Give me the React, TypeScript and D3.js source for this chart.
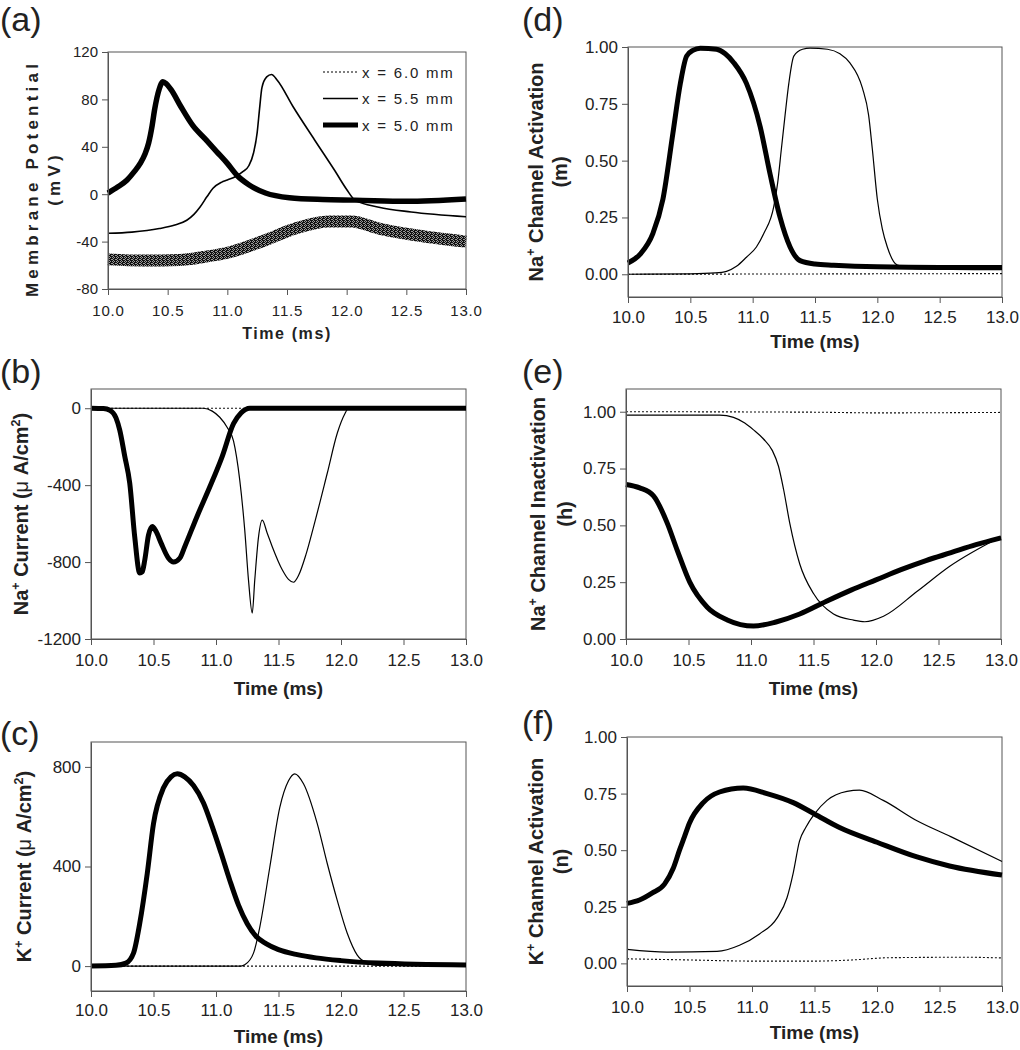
import { useEffect, useRef } from 'react';
import * as d3 from 'd3';

type Pt = [number, number];

const timeTicks = [10, 10.5, 11, 11.5, 12, 12.5, 13];
const legendLabels = ['x = 6.0 mm', 'x = 5.5 mm', 'x = 5.0 mm'];

// (a) membrane potential, mV
const vmTicks = [-80, -40, 0, 40, 80, 120];
const vm60: Pt[] = [
  [10.0, -55], [10.3, -56], [10.6, -55.5], [10.8, -53], [11.02, -49], [11.3, -39.5],
  [11.57, -29], [11.85, -23], [12.04, -23], [12.27, -29], [12.54, -34], [13.0, -40],
];
const vm55: Pt[] = [
  [10.0, -33], [10.2, -32], [10.43, -29], [10.56, -26], [10.66, -22], [10.72, -17],
  [10.77, -11], [10.83, -2], [10.88, 5], [10.95, 10], [11.0, 12], [11.07, 15],
  [11.13, 19], [11.18, 24], [11.22, 35], [11.25, 52], [11.27, 72], [11.29, 90],
  [11.33, 99], [11.37, 101], [11.42, 96], [11.55, 74], [11.73, 46], [11.9, 20],
  [12.0, 4], [12.07, -5], [12.27, -11], [12.54, -15], [13.0, -19],
];
const vm50: Pt[] = [
  [10.0, 1], [10.08, 6], [10.16, 12], [10.22, 19], [10.27, 26], [10.31, 34],
  [10.34, 43], [10.37, 58], [10.39, 71], [10.43, 89], [10.46, 95], [10.49, 93],
  [10.53, 88], [10.61, 74], [10.71, 58], [10.82, 46], [10.91, 36], [11.0, 26],
  [11.08, 16], [11.18, 8], [11.32, 1], [11.52, -3], [11.8, -4.5], [12.07, -5],
  [12.5, -6], [13.0, -4],
];

// (b) Na+ current, uA/cm2
const inaTicks = [-1200, -800, -400, 0];
const ina60: Pt[] = [[10.0, 0], [13.0, 0]];
const ina55: Pt[] = [
  [10.0, 0], [10.9, 0], [10.97, -15], [11.03, -47], [11.09, -100], [11.14, -170],
  [11.19, -374], [11.23, -634], [11.26, -894], [11.29, -1065], [11.31, -894],
  [11.34, -670], [11.37, -582], [11.41, -650], [11.45, -720], [11.53, -840],
  [11.58, -890], [11.62, -905], [11.66, -870], [11.72, -760], [11.78, -618],
  [11.89, -338], [11.97, -130], [12.03, -30], [12.06, 0], [13.0, 0],
];
const ina50: Pt[] = [
  [10.0, 0], [10.1, -2], [10.15, -10], [10.2, -50], [10.23, -114], [10.27, -250],
  [10.31, -390], [10.35, -670], [10.39, -857], [10.41, -850], [10.43, -790],
  [10.46, -660], [10.49, -615], [10.52, -640], [10.56, -700], [10.62, -780],
  [10.66, -800], [10.71, -780], [10.75, -720], [10.85, -560], [10.95, -410],
  [11.05, -250], [11.14, -80], [11.2, -25], [11.27, 0], [13.0, 0],
];

// (c) K+ current, uA/cm2
const ikTicks = [0, 400, 800];
const ik60: Pt[] = [[10.0, 0], [13.0, 0]];
const ik55: Pt[] = [
  [10.0, 0], [11.2, 0], [11.23, 5], [11.3, 52], [11.35, 156], [11.43, 396],
  [11.51, 636], [11.58, 744], [11.63, 772], [11.7, 732], [11.81, 572], [11.89, 412],
  [11.97, 264], [12.05, 132], [12.13, 44], [12.21, 12], [12.3, 3], [13.0, 0],
];
const ik50: Pt[] = [
  [10.0, 0], [10.2, 3], [10.28, 12], [10.34, 52], [10.39, 172], [10.45, 372],
  [10.5, 572], [10.58, 716], [10.64, 760], [10.69, 772], [10.75, 760], [10.82, 725],
  [10.9, 655], [10.97, 560], [11.04, 455], [11.11, 345], [11.18, 245], [11.25, 170],
  [11.32, 120], [11.4, 90], [11.5, 66], [11.65, 46], [11.8, 33], [12.0, 22],
  [12.3, 12], [13.0, 4],
];

// (d) Na+ activation m
const gateTicks = [0, 0.25, 0.5, 0.75, 1];
const m60: Pt[] = [[10.0, 0], [13.0, 0.003]];
const m55: Pt[] = [
  [10.0, 0], [10.5, 0.002], [10.7, 0.006], [10.79, 0.013], [10.87, 0.035],
  [10.95, 0.075], [11.03, 0.12], [11.09, 0.18], [11.17, 0.3], [11.2, 0.4],
  [11.23, 0.55], [11.26, 0.7], [11.29, 0.84], [11.33, 0.96], [11.4, 0.99],
  [11.46, 0.995], [11.6, 0.99], [11.7, 0.97], [11.78, 0.93], [11.88, 0.82],
  [11.93, 0.7], [11.96, 0.55], [12.0, 0.33], [12.04, 0.2], [12.08, 0.12],
  [12.16, 0.04], [12.3, 0.025], [13.0, 0.02],
];
const m50: Pt[] = [
  [10.0, 0.05], [10.1, 0.09], [10.2, 0.18], [10.28, 0.33], [10.36, 0.62],
  [10.42, 0.84], [10.47, 0.96], [10.52, 0.985], [10.58, 0.995], [10.71, 0.99],
  [10.78, 0.97], [10.85, 0.93], [10.95, 0.84], [11.06, 0.65], [11.14, 0.44],
  [11.22, 0.25], [11.3, 0.12], [11.38, 0.06], [11.5, 0.045], [11.65, 0.04],
  [12.0, 0.033], [12.5, 0.03], [13.0, 0.03],
];

// (e) Na+ inactivation h
const h60: Pt[] = [[10.0, 1.0], [11.5, 0.998], [12.0, 0.995], [13.0, 0.997]];
const h55: Pt[] = [
  [10.0, 0.985], [10.75, 0.985], [10.86, 0.975], [10.95, 0.95], [11.02, 0.92],
  [11.1, 0.88], [11.17, 0.83], [11.22, 0.76], [11.26, 0.66], [11.31, 0.51],
  [11.39, 0.33], [11.5, 0.2], [11.66, 0.11], [11.82, 0.083], [11.91, 0.076],
  [12.06, 0.1], [12.33, 0.21], [12.59, 0.32], [13.0, 0.45],
];
const h50: Pt[] = [
  [10.0, 0.68], [10.11, 0.665], [10.22, 0.63], [10.33, 0.51], [10.41, 0.39],
  [10.51, 0.25], [10.65, 0.14], [10.81, 0.084], [11.02, 0.057], [11.2, 0.075],
  [11.39, 0.11], [11.6, 0.165], [11.8, 0.215], [12.0, 0.26], [12.2, 0.305],
  [12.4, 0.345], [12.6, 0.38], [12.8, 0.415], [13.0, 0.445],
];

// (f) K+ activation n
const n60: Pt[] = [
  [10.0, 0.02], [10.5, 0.015], [11.0, 0.01], [11.5, 0.01], [11.8, 0.015],
  [12.1, 0.025], [12.7, 0.027], [13.0, 0.024],
];
const n55: Pt[] = [
  [10.0, 0.062], [10.32, 0.05], [10.72, 0.053], [10.9, 0.08], [11.06, 0.13],
  [11.2, 0.2], [11.28, 0.29], [11.33, 0.4], [11.38, 0.54], [11.43, 0.6],
  [11.5, 0.66], [11.6, 0.72], [11.76, 0.76], [11.86, 0.765], [12.05, 0.72],
  [12.32, 0.63], [12.59, 0.56], [13.0, 0.45],
];
const n50: Pt[] = [
  [10.0, 0.265], [10.1, 0.28], [10.2, 0.31], [10.3, 0.35], [10.37, 0.42],
  [10.42, 0.5], [10.46, 0.56], [10.5, 0.62], [10.61, 0.71], [10.74, 0.757],
  [10.93, 0.775], [11.12, 0.75], [11.33, 0.71], [11.5, 0.66], [11.7, 0.6],
  [12.0, 0.535], [12.32, 0.47], [12.58, 0.43], [13.0, 0.39],
];

const FONT = '"Liberation Sans", Arial, sans-serif';
const INK = '#222';
const FRAME = '#555';

type Part = { t: string; sup?: boolean; plain?: boolean };

function richText(sel: any, parts: Part[], size: number) {
  let up = false;
  parts.forEach((p) => {
    const ts = sel.append('tspan').text(p.t);
    if (p.sup) {
      ts.attr('font-size', size * 0.62).attr('dy', -size * 0.42);
      up = true;
    } else if (up) {
      ts.attr('dy', size * 0.42);
      up = false;
    }
    if (p.plain) ts.attr('font-weight', 'normal');
  });
}

export default function App() {
  const svgRef = useRef<SVGSVGElement>(null);

  useEffect(() => {
    if (!svgRef.current) return;
    const svg = d3.select(svgRef.current);
    svg.selectAll('*').remove();

    // stipple used for the noisy x = 6.0 mm trace in (a)
    const pat = svg.append('defs').append('pattern')
      .attr('id', 'stipple').attr('width', 4).attr('height', 4)
      .attr('patternUnits', 'userSpaceOnUse');
    pat.append('rect').attr('width', 4).attr('height', 4).attr('fill', '#999');
    [[0, 0], [2, 0], [3, 0], [1, 1], [3, 1], [0, 2], [2, 2], [3, 2], [1, 3], [2, 3]].forEach(([a, b]) =>
      pat.append('rect').attr('x', a).attr('y', b).attr('width', 1).attr('height', 1).attr('fill', '#111'));

    const yLab = (d: number) => `${d}`;
    const panels = [
      {
        tag: '(a)', tagX: 0, tagY: 31, x0: 108, x1: 466, y0: 52, y1: 289,
        yDomain: [-80, 120], yTicks: vmTicks, yFmt: yLab, series: [vm60, vm55, vm50],
        tickSize: 15, xPad: 10, xTitleY: 339, titleSize: 16, spacing: 1.6, band: true,
        yTitle: [[{ t: 'Membrane Potential' }], [{ t: '(mV)' }]], yTitleX: [38, 60], yTitleSize: 17, ySpacing: 4.2,
      },
      {
        tag: '(b)', tagX: 0, tagY: 383, x0: 91, x1: 466, y0: 389, y1: 639,
        yDomain: [-1200, 100], yTicks: inaTicks, yFmt: yLab, series: [ina60, ina55, ina50],
        tickSize: 17, xPad: 9, xTitleY: 695, titleSize: 19, spacing: 0,
        yTitle: [[{ t: 'Na' }, { t: '+', sup: true }, { t: ' Current (' }, { t: 'μ', plain: true }, { t: ' A/cm' }, { t: '2', sup: true }, { t: ')' }]],
        yTitleX: [28], yTitleSize: 20, ySpacing: 0,
      },
      {
        tag: '(c)', tagX: 0, tagY: 745, x0: 91, x1: 466, y0: 742, y1: 991,
        yDomain: [-100, 900], yTicks: ikTicks, yFmt: yLab, series: [ik60, ik55, ik50],
        tickSize: 17, xPad: 7, xTitleY: 1043, titleSize: 19, spacing: 0,
        yTitle: [[{ t: 'K' }, { t: '+', sup: true }, { t: ' Current (' }, { t: 'μ', plain: true }, { t: ' A/cm' }, { t: '2', sup: true }, { t: ')' }]],
        yTitleX: [31], yTitleSize: 20, ySpacing: 0,
      },
      {
        tag: '(d)', tagX: 522, tagY: 31, x0: 628, x1: 1002, y0: 47, y1: 297,
        yDomain: [-0.1, 1.0], yTicks: gateTicks, yFmt: d3.format('.2f'), series: [m60, m55, m50],
        tickSize: 17, xPad: 8, xTitleY: 348, titleSize: 19, spacing: 0,
        yTitle: [[{ t: 'Na' }, { t: '+', sup: true }, { t: ' Channel Activation' }], [{ t: '(m)' }]],
        yTitleX: [543, 567], yTitleSize: 20, ySpacing: 0,
      },
      {
        tag: '(e)', tagX: 522, tagY: 383, x0: 626, x1: 1001, y0: 389, y1: 639,
        yDomain: [0, 1.1], yTicks: gateTicks, yFmt: d3.format('.2f'), series: [h60, h55, h50],
        tickSize: 17, xPad: 9, xTitleY: 695, titleSize: 19, spacing: 0,
        yTitle: [[{ t: 'Na' }, { t: '+', sup: true }, { t: ' Channel Inactivation' }], [{ t: '(h)' }]],
        yTitleX: [545, 572], yTitleSize: 20, ySpacing: 0,
      },
      {
        tag: '(f)', tagX: 522, tagY: 734, x0: 627, x1: 1002, y0: 737, y1: 986,
        yDomain: [-0.1, 1.0], yTicks: gateTicks, yFmt: d3.format('.2f'), series: [n60, n55, n50],
        tickSize: 17, xPad: 9, xTitleY: 1039, titleSize: 19, spacing: 0,
        yTitle: [[{ t: 'K' }, { t: '+', sup: true }, { t: ' Channel Activation' }], [{ t: '(n)' }]],
        yTitleX: [543, 568], yTitleSize: 20, ySpacing: 0,
      },
    ];

    panels.forEach((p: any) => {
      const g = svg.append('g');
      const x = d3.scaleLinear().domain([10, 13]).range([p.x0, p.x1]);
      const y = d3.scaleLinear().domain(p.yDomain).range([p.y1, p.y0]);

      g.append('rect')
        .attr('x', p.x0).attr('y', p.y0)
        .attr('width', p.x1 - p.x0).attr('height', p.y1 - p.y0)
        .attr('fill', 'none').attr('stroke', FRAME).attr('stroke-width', 1);

      const line = d3.line<Pt>()
        .x((d) => x(d[0]))
        .y((d) => y(d[1]))
        .curve(d3.curveMonotoneX);

      const [s60, s55, s50] = p.series;
      if (p.band) {
        g.append('path').attr('d', line(s60)).attr('fill', 'none')
          .attr('stroke', 'url(#stipple)').attr('stroke-width', 12);
      } else {
        g.append('path').attr('d', line(s60)).attr('fill', 'none')
          .attr('stroke', '#111').attr('stroke-width', 1.1).attr('stroke-dasharray', '2,2');
      }
      g.append('path').attr('d', line(s55)).attr('fill', 'none')
        .attr('stroke', '#000').attr('stroke-width', p.band ? 1.6 : 1.2)
        .attr('stroke-linejoin', 'round');
      g.append('path').attr('d', line(s50)).attr('fill', 'none')
        .attr('stroke', '#000').attr('stroke-width', p.band ? 5.5 : 5)
        .attr('stroke-linejoin', 'round');

      // axes
      const xa = g.append('g')
        .attr('transform', `translate(0,${p.y1})`)
        .call(d3.axisBottom(x).tickValues(timeTicks).tickFormat(d3.format('.1f') as any)
          .tickSize(6).tickSizeOuter(0).tickPadding(p.xPad));
      const ya = g.append('g')
        .attr('transform', `translate(${p.x0},0)`)
        .call(d3.axisLeft(y).tickValues(p.yTicks).tickFormat(p.yFmt)
          .tickSize(6).tickSizeOuter(0).tickPadding(4));
      [xa, ya].forEach((a) => {
        a.select('.domain').attr('stroke', FRAME);
        a.selectAll('.tick line').attr('stroke', FRAME);
        a.selectAll('.tick text')
          .attr('fill', INK)
          .style('font-family', FONT)
          .style('font-size', `${p.tickSize}px`);
      });
      if (p.band) xa.selectAll('.tick text').style('letter-spacing', '0.8px');

      // x title
      g.append('text')
        .attr('x', (p.x0 + p.x1) / 2).attr('y', p.xTitleY)
        .attr('text-anchor', 'middle')
        .style('font-family', FONT).style('font-weight', 'bold')
        .style('font-size', `${p.titleSize}px`)
        .style('letter-spacing', `${p.spacing}px`)
        .attr('fill', INK)
        .text('Time (ms)');

      // y title (rotated, one or two lines)
      const cy = (p.y0 + p.y1) / 2 + (p.band ? 8 : 0);
      p.yTitle.forEach((parts: Part[], i: number) => {
        const t = g.append('text')
          .attr('transform', `translate(${p.yTitleX[i]},${cy}) rotate(-90)`)
          .attr('text-anchor', 'middle')
          .style('font-family', FONT).style('font-weight', 'bold')
          .style('font-size', `${p.yTitleSize}px`)
          .style('letter-spacing', `${p.ySpacing}px`)
          .attr('fill', INK);
        richText(t, parts, p.yTitleSize);
      });

      // panel tag
      g.append('text')
        .attr('x', p.tagX).attr('y', p.tagY)
        .style('font-family', FONT).style('font-size', '34px')
        .attr('fill', INK)
        .text(p.tag);

      if (p.band) {
        const rows = d3.scalePoint<string>().domain(legendLabels).range([72, 125]);
        const styles = [
          { w: 1.1, dash: '2,2' },
          { w: 1.3, dash: null },
          { w: 5, dash: null },
        ];
        legendLabels.forEach((lab, i) => {
          const yy = rows(lab) as number;
          g.append('line')
            .attr('x1', 323).attr('x2', 358).attr('y1', yy).attr('y2', yy)
            .attr('stroke', '#000').attr('stroke-width', styles[i].w)
            .attr('stroke-dasharray', styles[i].dash);
          g.append('text')
            .attr('x', 362).attr('y', yy + 5.5)
            .style('font-family', FONT).style('font-size', '15px')
            .style('letter-spacing', '1.8px')
            .attr('fill', INK)
            .text(lab);
        });
      }
    });
  }, []);

  return (
    <svg
      ref={svgRef}
      width={1020}
      height={1050}
      style={{ position: 'absolute', left: 0, top: 0, background: '#fff' }}
    />
  );
}
